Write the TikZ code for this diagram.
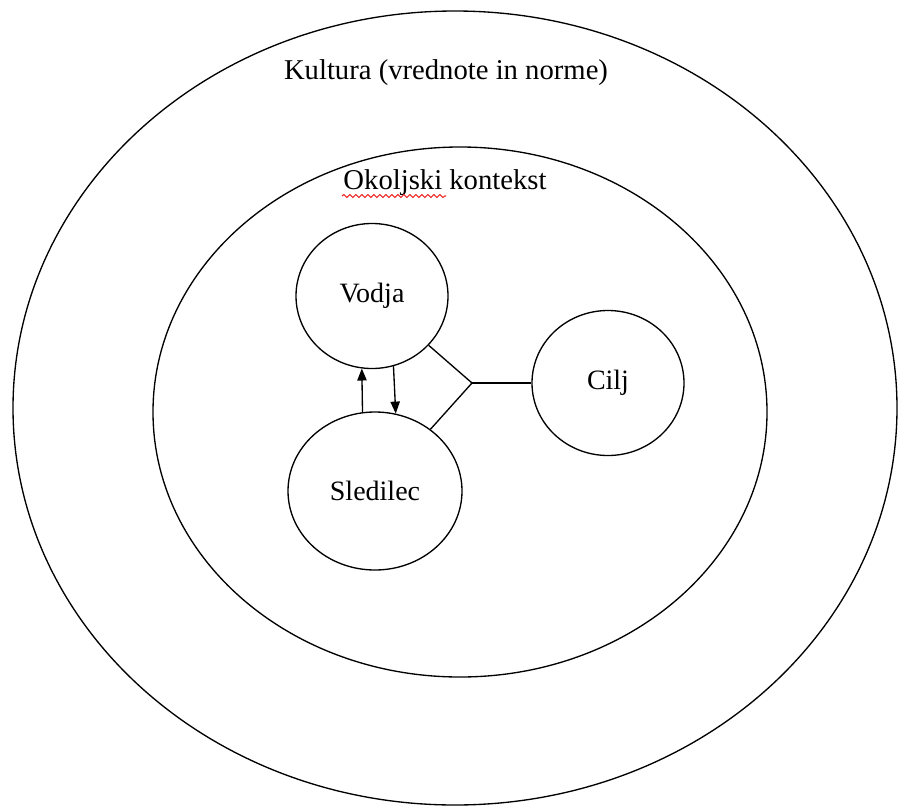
\documentclass[tikz,border=0pt]{standalone}
\usepackage{fontspec}
\setmainfont{Liberation Serif}
\usetikzlibrary{shapes.geometric,arrows.meta,decorations.pathmorphing}

\tikzset{every picture/.style={line width=0.75pt}}
\tikzset{
  besedilo/.style={inner sep=0.75pt, font=\fontsize{21.5}{25}\selectfont},
  krog/.style={draw, ellipse, line width=1pt, inner sep=0pt, font=\fontsize{21}{25}\selectfont},
  puscica/.style={line width=1pt, -{Triangle[length=9pt,width=7pt]}}
}

\begin{document}
\begin{tikzpicture}[x=0.75pt,y=0.75pt,yscale=-1,xscale=1]
\useasboundingbox (0,0) rectangle (903,807);

%Shape: Ellipse [kultura]
\draw [line width=1pt] (455,408) ellipse [x radius=442, y radius=397];
%Shape: Ellipse [okolje]
\draw [line width=1pt] (460,412) ellipse [x radius=307, y radius=265];

% Text Node
\node [besedilo] (kultura) at (446,73) {Kultura (vrednote in norme)};
% Text Node
\node [besedilo] (okolje) at (445,183) {Okoljski kontekst};
%Squiggle under Okoljski
\draw [color={rgb, 255:red, 240; green, 40; blue, 40 }, line width=0.8pt, decorate, decoration={snake, amplitude=1.1pt, segment length=4.5pt}] (342,196) -- (446,196);

%Shape: Circle [vodja]
\node [krog, minimum width=114pt, minimum height=108.75pt] (vodja) at (372,296) {Vodja};
%Shape: Circle [sledilec]
\node [krog, minimum width=130.5pt, minimum height=118.5pt] (sledilec) at (375,491) {Sledilec};
%Shape: Circle [cilj]
\node [krog, minimum width=114pt, minimum height=108.75pt] (cilj) at (608,383) {Cilj};

%Straight Lines
\coordinate (spoj) at (472,383);
\draw [line width=1pt] (vodja) -- (spoj) -- (sledilec);
\draw [line width=1pt] (spoj) -- (cilj.west);

%Arrows
\draw [puscica] (sledilec.99.5) -- (vodja.262);
\draw [puscica] (vodja.-73) -- (sledilec.75);

\end{tikzpicture}
\end{document}
